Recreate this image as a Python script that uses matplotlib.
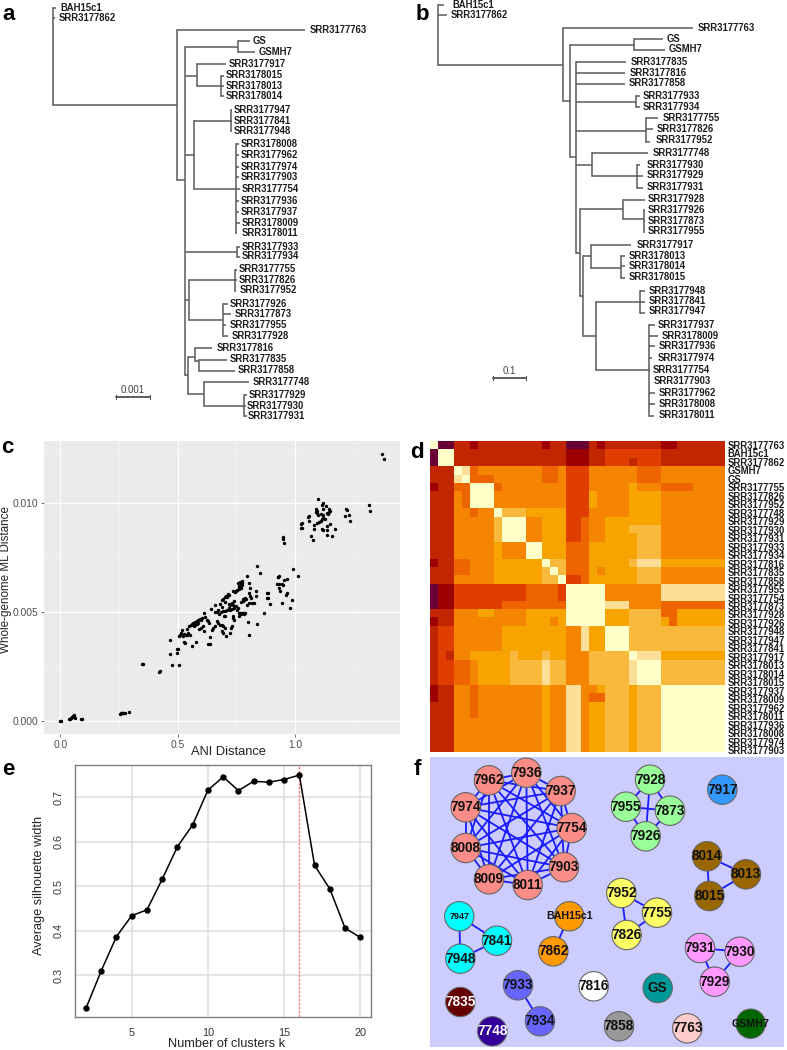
import itertools

import numpy as np
import matplotlib
matplotlib.use("Agg")
import matplotlib.pyplot as plt
from matplotlib.colors import ListedColormap

matplotlib.rcParams.update({
    "font.family": ["Liberation Sans", "DejaVu Sans"],
    "font.size": 8,
})

W, H = 787, 1050

# ---- panel a: branches are (parent x, child x, y), connectors come from the parent x
TREE_A = [
    (53, 56, 8), (53, 55, 18), (53, 177, 105),
    (177, 305, 30), (177, 184.5, 180),
    (184.5, 237.6, 47), (184.5, 197, 75.5), (184.5, 193.5, 155),
    (184.5, 237.4, 252), (184.5, 188.5, 300), (184.5, 187.5, 375),
    (237.6, 250, 41), (237.6, 255, 52),
    (197, 226, 64), (197, 221, 86),
    (221, 224, 75.5), (221, 224, 86), (221, 224, 96),
    (193.5, 230.5, 121), (193.5, 236, 189),
    (230.5, 232, 110), (230.5, 232, 120.5), (230.5, 232, 130.5),
    (236, 239, 144), (236, 239, 155), (236, 239, 166.5), (236, 239, 177), (236, 240, 189),
    (236, 239, 201), (236, 239, 211.7), (236, 240, 222.7), (236, 237, 233.3),
    (237.4, 240, 246.7), (237.4, 240, 257),
    (188.5, 234.5, 280), (188.5, 222.5, 320),
    (234.5, 237, 269.5), (234.5, 237, 279.7), (234.5, 236, 291),
    (222.5, 228, 303.7), (222.5, 231, 314), (222.5, 226, 325), (222.5, 228, 336),
    (187.5, 195, 357), (187.5, 203.5, 394),
    (195, 212, 348), (195, 198.5, 361),
    (198.5, 227, 359.7), (198.5, 235, 371),
    (203.5, 249, 382), (203.5, 244, 405.7),
    (244, 246.5, 395), (244, 246, 405.7), (244, 247, 416),
]
LEAVES_A = ["BAH15c1", "SRR3177862", "SRR3177763", "GS", "GSMH7", "SRR3177917", "SRR3178015",
            "SRR3178013", "SRR3178014", "SRR3177947", "SRR3177841", "SRR3177948", "SRR3178008",
            "SRR3177962", "SRR3177974", "SRR3177903", "SRR3177754", "SRR3177936", "SRR3177937",
            "SRR3178009", "SRR3178011", "SRR3177933", "SRR3177934", "SRR3177755", "SRR3177826",
            "SRR3177952", "SRR3177926", "SRR3177873", "SRR3177955", "SRR3177928", "SRR3177816",
            "SRR3177835", "SRR3177858", "SRR3177748", "SRR3177929", "SRR3177930", "SRR3177931"]
LEAF_X_A = [60, 59, 310, 253, 259, 229, 225.5, 226, 226, 234, 234, 234, 240.5, 241, 240.5, 240.5,
            242, 240.5, 241, 242, 241.5, 241.5, 241.5, 239, 239, 239.5, 230, 234.5, 230, 232, 217,
            230, 237.5, 252.5, 248.5, 247, 248]
LEAF_Y_A = [8, 18, 30, 41, 52, 64, 75.5, 86, 96, 110, 120.5, 130.5, 144, 155, 166.5, 177, 189, 201,
            211.7, 222.7, 233.3, 246.7, 256, 269.5, 279.7, 290.3, 303.7, 314, 325, 336, 348, 359,
            370, 382, 395, 405.7, 416]

# ---- panel b
TREE_B = [
    (437.5, 444, 5), (437.5, 447, 15), (437.5, 562.5, 64.5),
    (562.5, 693, 28), (562.5, 569.5, 101),
    (569.5, 633.5, 45), (569.5, 575.5, 157),
    (633.5, 663, 39), (633.5, 665, 50),
    (575.5, 626, 62), (575.5, 625, 72.5), (575.5, 625, 84), (575.5, 635.5, 102),
    (575.5, 645.5, 130.5), (575.5, 591.5, 165), (575.5, 579.5, 252.7),
    (635.5, 640, 96), (635.5, 640, 107),
    (645.5, 658, 118), (645.5, 653, 129), (645.5, 650, 142),
    (591.5, 648, 153), (591.5, 636.5, 176),
    (636.5, 640, 165), (636.5, 643, 176), (636.5, 643, 188),
    (579.5, 623, 209), (579.5, 582.5, 296),
    (623, 645, 199.5), (623, 643.5, 219),
    (643.5, 645, 210), (643.5, 645, 220.5), (643.5, 645, 232),
    (582.5, 591, 256), (582.5, 596, 336),
    (591, 631, 244.7), (591, 620.5, 268),
    (620.5, 625, 256), (620.5, 625, 266), (620.5, 625, 278),
    (596, 640, 302), (596, 648.5, 370),
    (640, 645, 291), (640, 645, 302), (640, 645, 313),
    (648.5, 655, 325), (648.5, 658, 336), (648.5, 655, 346.3), (648.5, 652, 358),
    (648.5, 650, 370), (648.5, 649, 381.5), (648.5, 655, 392.7), (648.5, 655, 404),
    (648.5, 654, 415.5),
]
LEAVES_B = ["BAH15c1", "SRR3177862", "SRR3177763", "GS", "GSMH7", "SRR3177835", "SRR3177816",
            "SRR3177858", "SRR3177933", "SRR3177934", "SRR3177755", "SRR3177826", "SRR3177952",
            "SRR3177748", "SRR3177930", "SRR3177929", "SRR3177931", "SRR3177928", "SRR3177926",
            "SRR3177873", "SRR3177955", "SRR3177917", "SRR3178013", "SRR3178014", "SRR3178015",
            "SRR3177948", "SRR3177841", "SRR3177947", "SRR3177937", "SRR3178009", "SRR3177936",
            "SRR3177974", "SRR3177754", "SRR3177903", "SRR3177962", "SRR3178008", "SRR3178011"]
LEAF_X_B = [452, 450.7, 698, 666.5, 669, 631, 630, 629, 642.5, 642.5, 662.5, 657, 655.5, 653, 646.5,
            646.5, 646.5, 648, 648, 648, 648, 637, 629, 629, 629, 649, 649, 649, 658, 661.5, 659,
            657.5, 653, 653.3, 658.5, 658.5, 659]
LEAF_Y_B = [5, 15, 28, 39, 49.5, 62, 72.5, 83.5, 96, 107, 118, 129, 140, 153, 165, 175.5, 186.5,
            199.5, 210, 220.5, 231, 244.7, 255.7, 266, 277, 290.7, 301, 311.5, 324.7, 335.7, 346.3,
            357.7, 370, 381.5, 392.7, 404, 415]

# ---- panel c
ANI_DIST = [
    .837, .852, .797, .802, .773, .766, .770, .763, .775, .768,
    .760, .754, .748, .737, .808, .834, .802, .808, .834, .811,
    .802, .794, .815, .825, .787, .783, .777, .790, .713, .706,
    .700, .695, .689, .658, .679, .641, .740, .731, .723, .717,
    .737, .748, .730, .723, .717, .709, .700, .692, .683, .677,
    .666, .703, .697, .754, .760, .768, .777, .787, .763, .771,
    .783, .737, .734, .740, .798, .838, .866, .805, .614, .602,
    .595, .588, .581, .574, .567, .560, .555, .550, .538, .623,
    .631, .635, .616, .609, .598, .591, .614, .581, .575, .666,
    .673, .680, .687, .695, .702, .652, .645, .660, .687, .692,
    .707, .723, .727, .731, .638, .631, .638, .552, .538, .528,
    .533, .518, .516, .510, .506, .578, .562, .466, .500, .879,
    .883, .879, .886, .893, .946, .933, .929, .954, .964, .925,
    .933, .943, .950, .933, .936, .964, .960,
    .467, .499, .497, .477, .506, .348, .354, .419, .423, .980,
    .989, .991, 1.011, .947, .950, .953, .926,
    1.096, 1.121, 1.113, 1.130, 1.089, 1.092, 1.095, 1.099, 1.088, 1.109,
    1.121, 1.118, 1.146, 1.143, 1.139, 1.149, 1.136, 1.061, 1.054, 1.058,
    1.030, 1.024, 1.031, 1.027, 1.121, 1.113, 1.128, 1.109, 1.101, 1.092,
    1.082, 1.082, 1.113, 1.118, 1.135, 1.135, 1.136, 1.149, 1.169, 1.156,
    1.070, 1.075, 1.217, 1.223, 1.213, 1.230, 1.233, 1.317, 1.319, 1.371,
    1.378,
    .000, .003, .037, .044, .051, .058, .0625, .058, .041, .088,
    .094, .254, .261, .268, .276, .294,
    .757, .775, .762, .745, .720, .710, .700, .690, .672, .660,
    .600, .585, .570, .545, .535, .523, .528, .770, .780, .755,
    .740, .048, .055, .258, .265,
]
ML_DIST = [
    .00712, .00680, .00665, .00634, .00641, .00636, .00630, .00622, .00633, .00611,
    .00605, .00602, .00599, .00595, .00611, .00598, .00587, .00576, .00572, .00567,
    .00541, .00533, .00541, .00540, .00564, .00556, .00550, .00559, .00582, .00576,
    .00569, .00561, .00556, .00532, .00535, .00515, .00550, .00541, .00533, .00536,
    .00533, .00529, .00513, .00511, .00517, .00511, .00507, .00503, .00500, .00489,
    .00500, .00483, .00484, .00509, .00497, .00495, .00495, .00495, .00483, .00491,
    .00491, .00480, .00471, .00462, .00454, .00446, .00495, .00396, .00495, .00472,
    .00468, .00465, .00460, .00455, .00449, .00445, .00439, .00434, .00423, .00465,
    .00457, .00449, .00477, .00437, .00426, .00423, .00411, .00446, .00439, .00457,
    .00449, .00442, .00439, .00434, .00426, .00426, .00419, .00437, .00411, .00403,
    .00390, .00406, .00426, .00434, .00385, .00353, .00353, .00393, .00393, .00364,
    .00358, .00416, .00406, .00396, .00391, .00361, .00344, .00370, .00330, .00590,
    .00589, .00567, .00564, .00537, .00543, .00664, .00662, .00648, .00654, .00627,
    .00630, .00630, .00625, .00610, .00599, .00587, .00579,
    .00308, .00329, .00314, .00256, .00256, .00263, .00262, .00225, .00228, .00521,
    .00556, .00697, .00668, .00847, .00835, .00819, .00663,
    .01020, .01001, .00994, .00989, .00974, .00966, .00954, .00945, .00960, .00951,
    .00946, .00972, .00972, .00960, .00951, .00966, .00957, .00942, .00936, .00917,
    .00908, .00906, .00888, .00887, .00931, .00929, .00929, .00919, .00916, .00911,
    .00900, .00880, .00882, .00879, .00896, .00876, .00856, .00903, .00882, .00851,
    .00851, .00832, .00972, .00969, .00943, .00948, .00920, .00991, .00965, .01225,
    .01204,
    -.00002, -.00002, .00011, .00014, .00017, .00020, .00015, .00028, .00011, .00011,
    .00010, .00034, .00035, .00038, .00038, .00041,
    .00635, .00625, .00615, .00592, .00578, .00570, .00545, .00525, .00508, .00500,
    .00462, .00452, .00437, .00405, .00395, .00390, .00400, .00548, .00558, .00520,
    .00520, .00018, .00022, .00036, .00037,
]

# ---- panel d
HEAT_COLORS = ["#6A0033", "#9C0000", "#C22600", "#E03E00", "#EE6500",
               "#F58400", "#F7A400", "#F8B93C", "#FBDF96", "#FFFFC8"]
HEAT_LABELS = ["SRR3177763", "BAH15c1", "SRR3177862", "GSMH7", "GS", "SRR3177755", "SRR3177826",
               "SRR3177952", "SRR3177748", "SRR3177929", "SRR3177930", "SRR3177931", "SRR3177933",
               "SRR3177934", "SRR3177816", "SRR3177835", "SRR3177858", "SRR3177955", "SRR3177754",
               "SRR3177873", "SRR3177928", "SRR3177926", "SRR3177948", "SRR3177947", "SRR3177841",
               "SRR3177917", "SRR3178013", "SRR3178014", "SRR3178015", "SRR3177937", "SRR3178009",
               "SRR3177962", "SRR3178011", "SRR3177936", "SRR3178008", "SRR3177974", "SRR3177903"]
HEAT_ROWS = [
    "9 00 22 1 22222222 1 22 000 2 1 2222222 11 222222",
    "0 99 22222222222222 111 22 3333333 22222222",
    "0 99 22222222222222 111 22 333 2 333 22222222",
    "222 9 8 4 55555555 44 5 333 555555 444 55555555",
    "222 8 9 444 555555 44 5 333 555555 444 55555555",
    "1 22 44 999 4 55555555 333 55555 6 555 4444 5555",
    "222 5 4 999 555555555 333 6 5555 6666 55555555",
    "222 5 4 999 555555555 333 6 5555 6666 55555555",
    "222 55 4 55 9 777 66666 333 55555 6666 55555555",
    "222 55555 7 999 55 666 33 4 55 666 6666 55555555",
    "222 55555 7 999 55 666 33 4 55 666 7777 55555555",
    "222 55555 7 999 55 666 33 4 55 6666 777 55555555",
    "222 55555 6 555 99 666 444 666666 777 55555555",
    "222 55555 6 555 99 666 444 666666 777 55555555",
    "1 22 44 555 666666 9 77 444 66666 7 888 66666666",
    "222 44 555 666666 7 9 7 444 6 5 6666 777 55555555",
    "222 55555 666666 77 9 33 4 666666 777 55555555",
    "0 11 333333333 4444 3 99999 5555555 88888888",
    "0 11 333333333 4444 3 99999 5555555 88888888",
    "0 11 333333 44444444 99999 888 5555 44444444",
    "222 555 66 5555 66666 99999 666 7777 44 666666",
    "1 22 555555555 666 5 6 99999 666 7777 6 4 666666",
    "2 33 555555 66666666 55 8 66 999 777777777777",
    "2 33 555555 66666666 55 8 66 999 777777777777",
    "2 33 555555 66666666 55 8 66 999 777777777777",
    "2 3 2 55 66666 7 666 7 66 555 77777 9 888 66666666",
    "2 33 44 5 6666 7777 8 77 555 77777 8 999 77777777",
    "2 33 44 5 6666 7777 8 77 555 77777 8 999 77777777",
    "2 33 44 5 6666 7777 8 77 555 77777 8 999 77777777",
    "1 22 55 4 55555555 6 55 88 55 6 777 6 777 99999999",
    "1 22 55 4 55555555 6 55 88 5 44 777 6 777 99999999",
    "222 55 4 55555555 6 55 88 5 66 777 6 777 99999999",
    "222 55 4 55555555 6 55 88 5 66 777 6 777 99999999",
    "222 55 5 55555555 6 55 88 5 66 777 6 777 99999999",
    "222 55 5 55555555 6 55 88 5 66 777 6 777 99999999",
    "222 55 5 55555555 6 55 88 5 66 777 6 777 99999999",
    "222 55 5 55555555 6 55 88 5 66 777 6 777 99999999",
]

# ---- panel e
CLUSTERS_K = list(range(2, 21))
SILHOUETTE = [.226, .310, .387, .434, .447, .516, .589, .638, .716, .746,
              .715, .736, .734, .740, .750, .547, .494, .406, .385]
BEST_K = 16

# ---- panel f
NODE_NAMES = ["7936", "7962", "7937", "7974", "7754", "8008", "7903", "8009", "8011",
              "7928", "7955", "7873", "7926", "7917", "8014", "8013", "8015",
              "7952", "7755", "7826", "7947", "7841", "7948", "BAH15c1", "7862",
              "7931", "7930", "7929", "7933", "7934", "7816", "GS", "7835",
              "7748", "7858", "7763", "GSMH7"]
NODE_X = [526.3, 489, 560.7, 465.7, 571.7, 465.7, 564, 489, 527.7,
          650, 626, 670, 645.7, 722.3, 707, 746, 709.3,
          621.3, 657, 626.7, 459.3, 497, 460.3, 569.3, 553.3,
          700, 739.7, 714.7, 518, 540, 593.7, 657.7, 460.3,
          492.3, 619, 687.3, 750.7]
NODE_Y = [772.7, 780.3, 791, 807.3, 828, 848, 867.3, 879.3, 885,
          779.7, 806.7, 810.7, 836.3, 789.7, 856.3, 874.3, 896,
          893, 912.7, 935, 916.3, 940.7, 958.7, 916.3, 951.3,
          948, 951.7, 981.7, 985.3, 1021.3, 986.3, 988, 1002,
          1031.3, 1026.3, 1028.3, 1023.7]
NODE_COLORS = ["#FB8C88"] * 9 + ["#99FF99"] * 4 + ["#3399FF"] + ["#996600"] * 3 + \
    ["#FFFF66"] * 3 + ["#00FFFF"] * 3 + ["#FF9900"] * 2 + ["#FF99FF"] * 3 + ["#6666FF"] * 2 + \
    ["#FFFFFF", "#009999", "#660000", "#330099", "#999999", "#FFCCCC", "#006600"]
CLIQUES = [
    ["7936", "7962", "7937", "7974", "7754", "8008", "7903", "8009", "8011"],
    ["7928", "7955", "7873", "7926"],
    ["8014", "8013", "8015"],
    ["7952", "7755", "7826"],
    ["7947", "7841", "7948"],
    ["BAH15c1", "7862"],
    ["7931", "7930", "7929"],
    ["7933", "7934"],
]


def px_axes(fig, left, top, right, bottom):
    return fig.add_axes([left / W, 1 - bottom / H, (right - left) / W, (bottom - top) / H])


def draw_tree(ax, branches, leaves, leaf_x, leaf_y):
    spans = {}
    for parent, child, y in branches:
        ax.plot([parent, child], [y, y], color="#5a5a5a", lw=1.1, solid_capstyle="butt")
        spans.setdefault(parent, []).append(y)
    for parent, ys in spans.items():
        ax.plot([parent, parent], [min(ys), max(ys)], color="#5a5a5a", lw=1.1)
    for name, x, y in zip(leaves, leaf_x, leaf_y):
        ax.text(x, y, name, fontsize=6.85, fontweight="bold", color="#1c1c1c", va="center", ha="left")


def scale_bar(ax, x0, x1, y, text):
    ax.plot([x0, x1], [y, y], color="#333333", lw=1.1)
    ax.plot([x0, x0], [y - 2, y + 2], color="#555555", lw=0.8)
    ax.plot([x1, x1], [y - 2, y + 2], color="#555555", lw=0.8)
    ax.text((x0 + x1) / 2, y - 7, text, fontsize=7, color="#444444", ha="center", va="center")


fig = plt.figure(figsize=(W / 100, H / 100), dpi=100)

# overlay in image pixels for the two trees and the panel letters
base = fig.add_axes([0, 0, 1, 1])
base.set_xlim(0, W)
base.set_ylim(H, 0)
base.axis("off")
draw_tree(base, TREE_A, LEAVES_A, LEAF_X_A, LEAF_Y_A)
draw_tree(base, TREE_B, LEAVES_B, LEAF_X_B, LEAF_Y_B)
scale_bar(base, 116, 149.5, 397, "0.001")
scale_bar(base, 492.5, 525.5, 378, "0.1")
for letter, x, y in [("a", 2, 20.5), ("b", 416, 20), ("c", 1, 453), ("d", 410, 458), ("e", 2, 775), ("f", 414, 775)]:
    base.text(x, y, letter, fontsize=16, fontweight="bold", color="black", va="baseline", ha="left")

# c: scatter
ax = px_axes(fig, 44, 441, 400, 734)
ax.set_facecolor("#EBEBEB")
ax.scatter(ANI_DIST, ML_DIST, s=6, color="black", linewidths=0, zorder=3)
ax.set_xlim(-0.0695, 1.447)
ax.set_ylim(-0.0006, 0.01286)
ax.set_xticks([0, 0.5, 1.0])
ax.set_xticklabels(["0.0", "0.5", "1.0"])
ax.set_yticks([0, 0.005, 0.010])
ax.set_yticklabels(["0.000", "0.005", "0.010"])
ax.set_xticks([0.25, 0.75, 1.25], minor=True)
ax.set_yticks([0.0025, 0.0075, 0.0125], minor=True)
ax.grid(True, which="major", color="white", lw=0.9)
ax.grid(True, which="minor", color="#F4F4F4", lw=0.5)
ax.set_axisbelow(True)
for spine in ax.spines.values():
    spine.set_visible(False)
ax.tick_params(which="major", length=2, width=0.6, color="#555555", labelcolor="#4D4D4D", labelsize=7.4, pad=2)
ax.tick_params(which="minor", length=0)
ax.set_xlabel("ANI Distance", fontsize=9.25, color="#222222")
ax.xaxis.set_label_coords(0.517, -0.06)
ax.xaxis.label.set_va("center")
ax.set_ylabel("Whole-genome ML Distance", fontsize=8.4, color="#222222", va="center")
ax.yaxis.set_label_coords(-0.108, 0.529)

# d: heatmap
ax = px_axes(fig, 430.3, 440.7, 724.7, 751.7)
heat = np.array([[int(c) for c in row.replace(" ", "")] for row in HEAT_ROWS])
ax.imshow(heat, cmap=ListedColormap(HEAT_COLORS), vmin=0, vmax=9, aspect="auto", interpolation="nearest")
ax.set_xticks([])
ax.yaxis.tick_right()
ax.set_yticks(np.linspace(0.01, 36.3, len(HEAT_LABELS)))
ax.set_yticklabels(HEAT_LABELS, fontsize=6.85, fontweight="bold", color="#1c1c1c")
ax.tick_params(axis="y", length=0, pad=2)
for spine in ax.spines.values():
    spine.set_visible(False)

# e: silhouette
ax = px_axes(fig, 75, 765, 371, 1017.3)
ax.plot(CLUSTERS_K, SILHOUETTE, color="black", lw=1.1, marker="o", ms=3.6, zorder=3)
ax.axvline(BEST_K, color="#FF6A6A", lw=0.9, ls=(0, (2, 1.2)), zorder=2)
ax.set_xlim(1.28, 20.7)
ax.set_ylim(0.2056, 0.7726)
ax.set_xticks([5, 10, 15, 20])
ax.set_yticks([0.3, 0.4, 0.5, 0.6, 0.7])
ax.grid(True, color="#DCDCDC", lw=1.1)
ax.set_axisbelow(True)
for spine in ax.spines.values():
    spine.set_color("#808080")
    spine.set_linewidth(1.0)
ax.tick_params(axis="x", length=0, pad=8, labelsize=7.8, labelcolor="#333333")
ax.tick_params(axis="y", length=0, pad=8, labelsize=7.8, labelcolor="#333333", labelrotation=90)
for lab in ax.get_yticklabels():
    lab.set_va("center")
ax.set_xlabel("Number of clusters k", fontsize=9.2, color="#222222")
ax.xaxis.set_label_coords(0.5135, -0.106)
ax.xaxis.label.set_va("center")
ax.set_ylabel("Average silhouette width", fontsize=9.2, color="#222222", va="center")
ax.yaxis.set_label_coords(-0.122, 0.522)

# f: cluster network
ax = px_axes(fig, 430, 756.7, 784, 1046.7)
ax.set_facecolor("#CCCCFF")
ax.set_xlim(430, 784)
ax.set_ylim(1046.7, 756.7)
ax.set_xticks([])
ax.set_yticks([])
for spine in ax.spines.values():
    spine.set_visible(False)
pos = {n: (x, y) for n, x, y in zip(NODE_NAMES, NODE_X, NODE_Y)}
for clique in CLIQUES:
    for a, b in itertools.combinations(clique, 2):
        ax.plot([pos[a][0], pos[b][0]], [pos[a][1], pos[b][1]], color="#1A1AFF", lw=1.3, zorder=1)
ax.scatter(NODE_X, NODE_Y, s=448, c=NODE_COLORS, edgecolors="#666666", linewidths=0.8, zorder=2)
for name, x, y in zip(NODE_NAMES, NODE_X, NODE_Y):
    color = "white" if name in ("7835", "7748") else "#111111"
    size = 6.5 if name == "7947" else (7.7 if name in ("BAH15c1", "GSMH7") else 9.8)
    ax.text(x, y, name, fontsize=size, fontweight="bold", color=color, ha="center", va="center", zorder=3)

fig.savefig("out.png", dpi=100, facecolor="white")
